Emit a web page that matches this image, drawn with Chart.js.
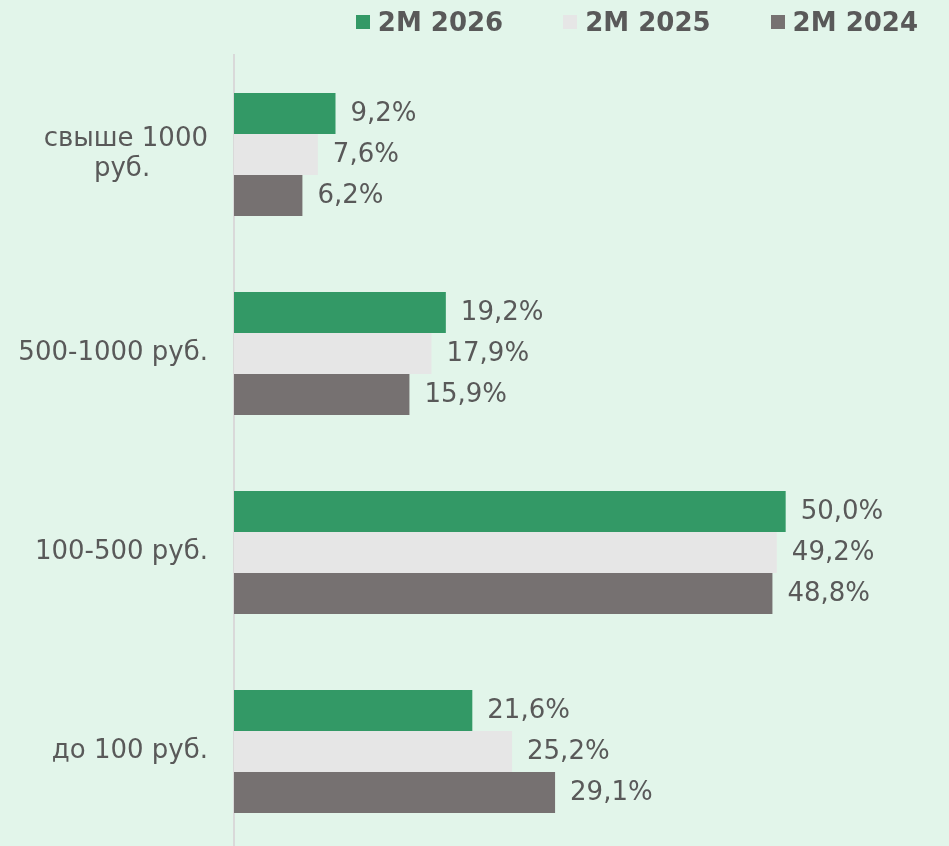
<!DOCTYPE html>
<html lang="ru">
<head>
<meta charset="utf-8">
<title>2M 2026 / 2M 2025 / 2M 2024</title>
<script src="https://cdn.jsdelivr.net/npm/chart.js@4"></script>
<style>
  html, body { margin: 0; padding: 0; width: 949px; height: 846px; overflow: hidden; background: #e2f5ea; }
  #chart { position: absolute; left: 0; top: 0; }
  #legend { position: absolute; top: 7px; right: 31px; display: flex; gap: 60px;
            font: bold 26px "DejaVu Sans", Verdana, sans-serif; line-height: 30px; color: #595959; }
  .item { display: flex; align-items: center; }
  .box { width: 14px; height: 14px; margin-right: 8px; }
</style>
</head>
<body>
<canvas id="chart" width="949" height="851"></canvas>
<div id="legend"></div>
<script>
const NB = '\u00a0';
const categories = [['свыше 1000', 'руб.' + NB.repeat(7)], '500-1000 руб.', '100-500 руб.', 'до 100 руб.'];
const seriesNames = ['2M 2026', '2M 2025', '2M 2024'];
const values2026 = [9.2, 19.2, 50.0, 21.6];
const values2025 = [7.6, 17.9, 49.2, 25.2];
const values2024 = [6.2, 15.9, 48.8, 29.1];
const seriesColors = ['#339966', '#e6e6e6', '#767171'];

const seriesValues = [values2026, values2025, values2024];

// подписи значений справа от столбцов
const valueLabels = {
  id: 'valueLabels',
  afterDatasetsDraw(chart) {
    const ctx = chart.ctx;
    ctx.save();
    ctx.font = '26px "DejaVu Sans", Verdana, sans-serif';
    ctx.fillStyle = '#595959';
    ctx.textAlign = 'left';
    ctx.textBaseline = 'middle';
    chart.data.datasets.forEach((ds, i) => {
      chart.getDatasetMeta(i).data.forEach((bar, j) => {
        const txt = ds.data[j].toFixed(1).replace('.', ',') + '%';
        ctx.fillText(txt, bar.x + 15, bar.y + 1);
      });
    });
    ctx.restore();
  }
};

// легенда
const legendEl = document.getElementById('legend');
seriesNames.forEach((name, i) => {
  const item = document.createElement('div');
  item.className = 'item';
  const box = document.createElement('span');
  box.className = 'box';
  box.style.background = seriesColors[i];
  const txt = document.createElement('span');
  txt.textContent = name;
  item.appendChild(box);
  item.appendChild(txt);
  legendEl.appendChild(item);
});

new Chart(document.getElementById('chart'), {
  type: 'bar',
  data: {
    labels: categories,
    datasets: seriesNames.map((name, i) => ({
      label: name,
      data: seriesValues[i],
      backgroundColor: seriesColors[i],
      borderWidth: 0,
      categoryPercentage: 0.618,
      barPercentage: 1.0
    }))
  },
  options: {
    indexAxis: 'y',
    responsive: false,
    animation: false,
    layout: { padding: { top: 55, right: 53, left: 0, bottom: 0 } },
    plugins: {
      legend: { display: false },
      tooltip: { enabled: false }
    },
    scales: {
      x: { min: 0, max: 60, display: false },
      y: {
        grid: { display: false, drawTicks: false },
        border: { display: true, color: '#d9d9d9', width: 2 },
        ticks: {
          color: '#595959',
          padding: 26,
          font: { family: '"DejaVu Sans", Verdana, sans-serif', size: 26, lineHeight: 1.15 }
        },
        afterFit(scale) {
          scale.width = 234;
          // без лишних отступов сверху/снизу от подписей
          scale.paddingTop = 0;
          scale.paddingBottom = 0;
        }
      }
    }
  },
  plugins: [valueLabels]
});
</script>
</body>
</html>
